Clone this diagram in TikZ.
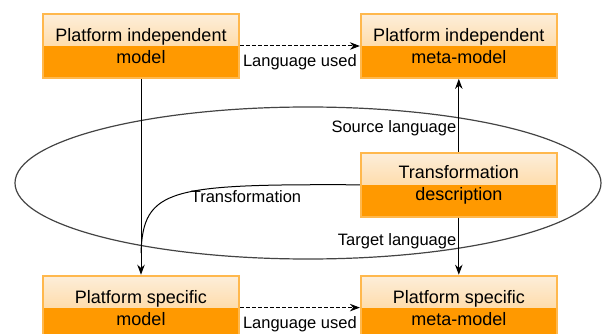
\documentclass[tikz,border=0pt]{standalone}
\usepackage{fontspec}
\setmainfont{Liberation Sans}
\usetikzlibrary{positioning,arrows.meta,calc}
\definecolor{rim}{HTML}{FFB84D}
\definecolor{peach}{HTML}{FDEEDA}
\definecolor{peachdk}{HTML}{FFCB7E}
\definecolor{orng}{HTML}{FF9900}
\definecolor{ring}{HTML}{444444}
\tikzset{
  >={Stealth[length=10pt,width=7.5pt]},
  pbox/.style={draw=rim, line width=1.8pt, minimum width=196pt, minimum height=64pt,
               inner sep=0pt, align=center, font=\fontsize{18}{22}\selectfont,
               path picture={
                 \fill[top color=peach, bottom color=peachdk]
                   (path picture bounding box.north west) rectangle (path picture bounding box.east);
                 \fill[orng]
                   (path picture bounding box.west) rectangle (path picture bounding box.south east);
               }},
  lbl/.style={font=\fontsize{16.5}{19}\selectfont, inner sep=2pt},
  l/.style={->, line width=1pt, draw=black},
  used/.style={l, dash pattern=on 4pt off 2pt},
}
\begin{document}
\begin{tikzpicture}[x=1pt, y=1pt]
  \useasboundingbox (0,0) rectangle (608,-334);
  \clip (0,0) rectangle (608,-334);
  \draw[ring, line width=1.2pt] (308,-183) ellipse [x radius=293pt, y radius=76pt];
  \node[pbox] (pim) at (141,-46) {Platform independent\\model};
  \node[pbox, right=120pt of pim] (pimm) {Platform independent\\meta-model};
  \node[pbox, below=73pt of pimm] (td) {Transformation\\description};
  \node[pbox, below=57pt of td] (psmm) {Platform specific\\meta-model};
  \node[pbox, left=120pt of psmm] (psm) {Platform specific\\model};
  \coordinate (merge) at ($(pim.south)!0.89!(psm.north)$);
  \draw[used] (pim) -- node[lbl, below=6pt] {Language used} (pimm);
  \draw[used] (psm) -- node[lbl, below=6pt] {Language used} (psmm);
  \draw[l] (td) -- node[lbl, left, pos=0.32] {Source language} (pimm);
  \draw[l] (td) -- node[lbl, left, pos=0.42] {Target language} (psmm);
  \draw[l] (pim) -- (psm);
  \draw[line width=1pt] (td.west) .. controls (170,-184) and (143,-188) .. (merge);
  \node[lbl] (trl) at (246,-197) {Transformation};
\end{tikzpicture}
\end{document}
